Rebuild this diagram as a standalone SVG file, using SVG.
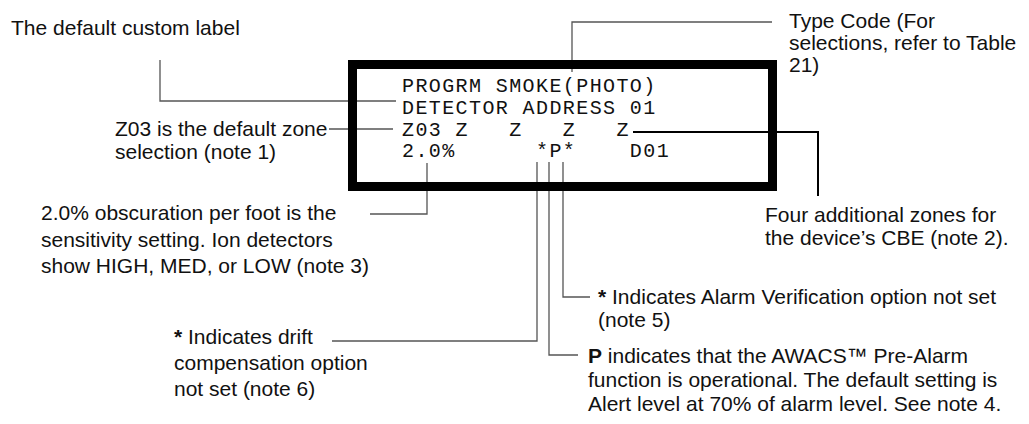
<svg xmlns="http://www.w3.org/2000/svg" width="1029" height="424" viewBox="0 0 1029 424">
<style>
.t{font-family:"Liberation Sans",Arial,sans-serif;font-size:21px;fill:#111}
.m{font-family:"Liberation Mono","DejaVu Sans Mono",monospace;font-size:20px;letter-spacing:1.4px;fill:#111}
.c{fill:none;stroke:#555;stroke-width:1.3}
.k{fill:none;stroke:#000;stroke-width:2}
.b{font-weight:bold}
</style>
<rect width="1029" height="424" fill="#fff"/>
<g id="connectors">
<polyline class="c" points="160,60 160,101 396,101"/>
<polyline class="c" points="329,129 393,129"/>
<polyline class="c" points="772,22 572,22 572,72"/>
<polyline class="k" points="633,132 818,132 818,196"/>
<polyline class="c" points="427,163 427,214 370,214"/>
<polyline class="c" points="537,162 537,341 332,341"/>
<polyline class="c" points="549,162 549,355 578,355"/>
<polyline class="c" points="563,162 563,297 590,297"/>
</g>
<g id="display">
<rect x="352.5" y="64.5" width="420" height="122" fill="none" stroke="#000" stroke-width="9"/>
<text class="m" xml:space="preserve"><tspan x="402" y="92">PROGRM SMOKE(PHOTO)</tspan><tspan x="402" y="114">DETECTOR ADDRESS 01</tspan><tspan x="402" y="136">Z03 Z   Z   Z   Z</tspan><tspan x="402" y="157">2.0%      *P*    D01</tspan></text>
</g>
<g id="label-custom"><text class="t" x="11" y="35">The default custom label</text></g>
<g id="label-zone"><text class="t"><tspan x="115" y="136">Z03 is the default zone</tspan><tspan x="115" y="159">selection (note 1)</tspan></text></g>
<g id="label-type"><text class="t"><tspan x="789" y="28">Type Code (For</tspan><tspan x="789" y="50">selections, refer to Table</tspan><tspan x="789" y="72">21)</tspan></text></g>
<g id="label-zones4"><text class="t"><tspan x="765" y="222">Four additional zones for</tspan><tspan x="765" y="245">the device’s CBE (note 2).</tspan></text></g>
<g id="label-sens"><text class="t"><tspan x="41" y="220">2.0% obscuration per foot is the</tspan><tspan x="41" y="247">sensitivity setting. Ion detectors</tspan><tspan x="41" y="273">show HIGH, MED, or LOW (note 3)</tspan></text></g>
<g id="label-drift"><text class="t"><tspan x="174" y="344"><tspan class="b">*</tspan> Indicates drift</tspan><tspan x="174" y="370">compensation option</tspan><tspan x="174" y="396">not set (note 6)</tspan></text></g>
<g id="label-verif"><text class="t"><tspan x="598" y="304"><tspan class="b">*</tspan> Indicates Alarm Verification option not set</tspan><tspan x="598" y="327">(note 5)</tspan></text></g>
<g id="label-awacs"><text class="t"><tspan x="588" y="363"><tspan class="b">P</tspan> indicates that the AWACS™ Pre-Alarm</tspan><tspan x="588" y="387">function is operational. The default setting is</tspan><tspan x="588" y="411">Alert level at 70% of alarm level. See note 4.</tspan></text></g>
</svg>
